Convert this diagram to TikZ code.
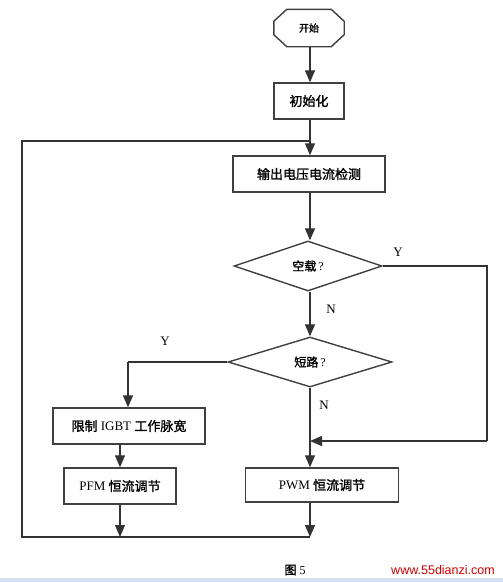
\documentclass[tikz,border=0pt]{standalone}
\usepackage{fontspec}
\setmainfont{Liberation Serif}
\newfontfamily\cjk{Noto Sans CJK SC}[FakeBold=1.5]
\newfontfamily\wmfont{Liberation Sans}
\usetikzlibrary{arrows.meta,shapes.geometric}
\begin{document}
\begin{tikzpicture}[x=1pt,y=-1pt,
  line/.style={draw=black!80,line width=1.3pt},
  arr/.style={line,-{Triangle[length=12pt,width=10pt]}},
  outline/.style={draw=black!75,line width=1.4pt},
  box/.style={outline,rectangle,inner sep=0pt,font=\fontsize{13}{14}\selectfont},
  startbox/.style={rectangle,inner sep=0pt,font=\fontsize{10}{11}\selectfont},
  decision/.style={outline,diamond,inner sep=0pt,font=\fontsize{12}{13}\selectfont},
  lbl/.style={font=\fontsize{13}{14}\selectfont,inner sep=0pt}]
\useasboundingbox (0,0) rectangle (503,582);
\fill[fill=white] (0,0) rectangle (503,582);
\fill[fill={rgb,255:red,214;green,224;blue,240}] (0,578) rectangle (503,582);

\node[startbox,minimum width=70pt,minimum height=37pt] (start) at (309,28) {\cjk 开始};
\draw[outline,line join=round]
  ([xshift=13pt]start.north west) -- ([xshift=-13pt]start.north east)
  -- ([yshift=-12pt]start.north east) -- ([yshift=12pt]start.south east)
  -- ([xshift=-13pt]start.south east) -- ([xshift=13pt]start.south west)
  -- ([yshift=12pt]start.south west) -- ([yshift=-12pt]start.north west) -- cycle;
\node[box,minimum width=70pt,minimum height=36pt] (init) at (309,101) {\cjk 初始化};
\node[box,minimum width=152pt,minimum height=36pt] (detect) at (309,174) {\cjk 输出电压电流检测};
\node[decision,minimum width=148pt,minimum height=50pt] (noload) at (308,266) {{\cjk 空载}\,?};
\node[decision,minimum width=164pt,minimum height=50pt] (short) at (310,362) {{\cjk 短路}\,?};
\node[box,minimum width=152pt,minimum height=36pt] (limit) at (129,426) {{\cjk 限制} IGBT {\cjk 工作脉宽}};
\node[box,minimum width=112pt,minimum height=36pt] (pfm) at (120,486) {PFM {\cjk 恒流调节}};
\node[box,minimum width=153pt,minimum height=34pt] (pwm) at (322,485) {PWM {\cjk 恒流调节}};

\coordinate (ymerge) at (310,441);
\coordinate (yright) at (487,266);
\coordinate (yrightb) at (487,441);
\coordinate (yleft) at (128,362);
\coordinate (loopbl) at (22,537);
\coordinate (loopbr) at (310,537);
\coordinate (looptl) at (22,141);
\coordinate (looptr) at (310,141);

\draw[arr] (start.south -| looptr) -- (init.north -| looptr);
\draw[arr] (init.south -| looptr) -- (detect.north -| looptr);
\draw[arr] (detect.south -| looptr) -- (noload.north -| looptr);
\draw[arr] (noload.south -| looptr) -- (short.north);
\draw[line] (noload.east) -- (yright) -- (yrightb);
\draw[arr] (yrightb) -- (ymerge);
\draw[line] (short.west) -- (yleft);
\draw[arr] (yleft) -- (yleft |- limit.north);
\draw[arr] (short.south) -- (short.south |- pwm.north);
\draw[arr] (limit.south -| pfm) -- (pfm.north);
\draw[arr] (pfm.south) -- (pfm.south |- loopbl);
\draw[arr] (pwm.south -| loopbr) -- (loopbr);
\draw[line] (loopbr) -- (loopbl) -- (looptl) -- (looptr);

\node[lbl] (ylab1) at (398,252) {Y};
\node[lbl] (nlab1) at (331,309) {N};
\node[lbl] (ylab2) at (165,341) {Y};
\node[lbl] (nlab2) at (324,405) {N};

\node[font=\fontsize{12}{13}\selectfont,inner sep=0pt] (caption) at (295,570) {{\cjk 图} 5};
\node[font=\wmfont\fontsize{12.5}{13}\selectfont,text={rgb,255:red,204;green,0;blue,0},inner sep=0pt] (wm) at (443,570) {www.55dianzi.com};
\end{tikzpicture}
\end{document}
